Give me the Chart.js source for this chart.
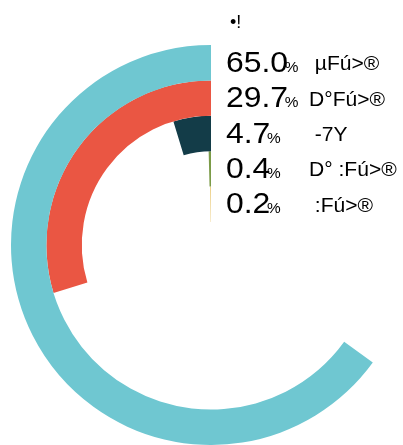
<!DOCTYPE html>
<html>
<head>
<meta charset="utf-8">
<script src="https://cdn.jsdelivr.net/npm/chart.js@4"></script>
<style>
  html, body { margin:0; padding:0; width:403px; height:445px; overflow:hidden; background:#fff; }
  #wrap { position:relative; width:403px; height:445px; overflow:hidden; }
  canvas { position:absolute; left:0; top:0; }
  .title { position:absolute; left:230px; top:12px; font:18px "Liberation Sans", Arial, sans-serif; color:#000; }
  .row { position:absolute; left:0; top:0; height:0; }
  .num { position:absolute; left:226px; font:29px "Liberation Sans", Arial, sans-serif; color:#000; line-height:29px; white-space:pre; transform:scaleX(1.1); transform-origin:0 50%; }
  .pct { font-size:14px; margin-left:-3px; }
  .lab { position:absolute; left:309px; font:19.5px "Liberation Sans", Arial, sans-serif; color:#000; line-height:20px; white-space:pre; transform:scaleX(1.08); transform-origin:0 50%; }
</style>
</head>
<body>
<div id="wrap">
  <canvas id="c" width="422" height="445"></canvas>
  <div class="title">•!</div>
  <div id="legend"></div>
</div>
<script>
const titleText = '•!';
const categories = [' µFú>®', 'D°Fú>®', ' -7Y', 'D° :Fú>®', ' :Fú>®'];
const values = [65.0, 29.7, 4.7, 0.4, 0.2];
const colors = ['#6FC7D1', '#EA5643', '#133C48', '#7B9B48', '#E6BF5C'];

const datasets = values.map((v, i) => ({
  label: categories[i],
  data: [100 - v, v],
  backgroundColor: ['rgba(0,0,0,0)', colors[i]],
  borderWidth: 0,
  hoverOffset: 0
}));

const legend = document.getElementById('legend');
const rows = values.map((v, i) => {
  const row = document.createElement('div');
  row.className = 'row';
  const num = document.createElement('span');
  num.className = 'num';
  num.appendChild(document.createTextNode(v.toFixed(1)));
  const pct = document.createElement('span');
  pct.className = 'pct';
  pct.textContent = '%';
  num.appendChild(pct);
  const lab = document.createElement('span');
  lab.className = 'lab';
  lab.textContent = categories[i];
  row.appendChild(num);
  row.appendChild(lab);
  legend.appendChild(row);
  return row;
});

const placeLegend = {
  id: 'placeLegend',
  afterRender(chart) {
    chart.data.datasets.forEach((ds, i) => {
      const meta = chart.getDatasetMeta(i);
      const arc = meta.data[1];
      if (!arc) return;
      const p = arc.getProps(['x', 'y', 'innerRadius', 'outerRadius'], true);
      const mid = (p.innerRadius + p.outerRadius) / 2;
      const yc = p.y - mid;
      const row = rows[i];
      row.style.top = yc + 'px';
      row.querySelector('.num').style.top = (-29 / 2 - 0.5) + 'px';
      row.querySelector('.lab').style.top = (-20 / 2 + 0.5) + 'px';
    });
  }
};

new Chart(document.getElementById('c'), {
  type: 'doughnut',
  data: { labels: ['', ''], datasets },
  options: {
    responsive: false,
    animation: false,
    cutout: 23,
    rotation: 0,
    circumference: 360,
    layout: { padding: { left: 11, right: 11, top: 45, bottom: 0 } },
    plugins: { legend: { display: false }, tooltip: { enabled: false }, title: { display: false } },
    events: []
  },
  plugins: [placeLegend]
});
</script>
</body>
</html>
